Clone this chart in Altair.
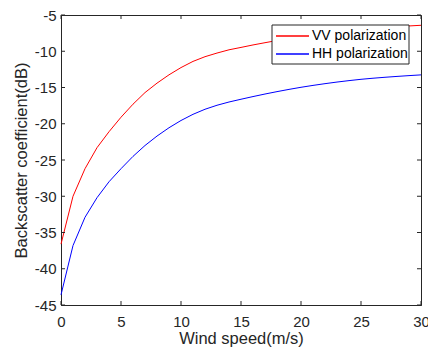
import altair as alt
import pandas as pd

# ---- data ----
wind_speed = list(range(31))
vv_db = [-36.6, -30.0, -26.2, -23.3, -21.1, -19.1, -17.3, -15.7, -14.4, -13.25,
         -12.25, -11.4, -10.75, -10.25, -9.8, -9.47, -9.13, -8.82, -8.52, -8.24,
         -7.98, -7.74, -7.52, -7.32, -7.14, -6.98, -6.84, -6.72, -6.61, -6.51, -6.42]
hh_db = [-43.6, -36.8, -32.9, -30.2, -28.0, -26.2, -24.5, -23.0, -21.7, -20.55,
         -19.55, -18.7, -18.0, -17.45, -17.0, -16.62, -16.25, -15.9, -15.57, -15.26,
         -14.97, -14.71, -14.47, -14.25, -14.05, -13.87, -13.72, -13.59, -13.47, -13.36, -13.26]
series_names = ["VV polarization", "HH polarization"]
series_colors = ["#ff0000", "#0000ff"]
x_ticks = [0, 5, 10, 15, 20, 25, 30]
y_ticks = [-45, -40, -35, -30, -25, -20, -15, -10, -5]

df = pd.DataFrame({
    "wind": wind_speed * 2,
    "sigma": vv_db + hh_db,
    "pol": [series_names[0]] * len(wind_speed) + [series_names[1]] * len(wind_speed),
})

W, H = 360, 290
FONT = "Liberation Sans"
AX = "#262626"

xscale = alt.Scale(domain=[0, 30], nice=False, zero=False)
yscale = alt.Scale(domain=[-45, -5], nice=False, zero=False)

x_axis = alt.Axis(values=x_ticks, title="Wind speed(m/s)",
                  labelExpr="toString(datum.value)", labelFlush=False, labelOverlap=False,
                  labelPadding=9, titleX=W / 2, titleY=33,
                  titleBaseline="middle", titleAlign="center")
y_axis = alt.Axis(values=y_ticks, title="Backscatter coefficient(dB)",
                  labelExpr="toString(datum.value)", labelFlush=False, labelOverlap=False,
                  labelPadding=5, titleX=-40, titleY=H / 2,
                  titleBaseline="middle", titleAlign="center", titleAngle=-90)

lines = alt.Chart(df).mark_line(strokeWidth=1).encode(
    x=alt.X("wind:Q", scale=xscale, axis=x_axis),
    y=alt.Y("sigma:Q", scale=yscale, axis=y_axis),
    color=alt.Color("pol:N", scale=alt.Scale(domain=series_names, range=series_colors), legend=None),
)

xt = pd.DataFrame({"wind": x_ticks})
yt = pd.DataFrame({"sigma": y_ticks})
TL = 4
tick_layers = [
    alt.Chart(xt).mark_rule(color=AX, strokeWidth=1).encode(
        x=alt.X("wind:Q", scale=xscale, axis=x_axis), y=alt.value(H), y2=alt.value(H - TL)),
    alt.Chart(xt).mark_rule(color=AX, strokeWidth=1).encode(
        x=alt.X("wind:Q", scale=xscale, axis=x_axis), y=alt.value(0), y2=alt.value(TL)),
    alt.Chart(yt).mark_rule(color=AX, strokeWidth=1).encode(
        y=alt.Y("sigma:Q", scale=yscale, axis=y_axis), x=alt.value(0), x2=alt.value(TL)),
    alt.Chart(yt).mark_rule(color=AX, strokeWidth=1).encode(
        y=alt.Y("sigma:Q", scale=yscale, axis=y_axis), x=alt.value(W - TL), x2=alt.value(W)),
]

one = pd.DataFrame({"a": [0]})
LX0, LX1, LY0, LY1 = 211, 348, 10, 49
legend_layers = [
    alt.Chart(one).mark_rect(fill="white", stroke=AX, strokeWidth=1).encode(
        x=alt.value(LX0), x2=alt.value(LX1), y=alt.value(LY0), y2=alt.value(LY1)),
]
for i, (name, col) in enumerate(zip(series_names, series_colors)):
    yy = 21 + 18 * i
    legend_layers.append(
        alt.Chart(one).mark_rule(color=col, strokeWidth=1.3).encode(
            x=alt.value(215), x2=alt.value(248), y=alt.value(yy)))
    legend_layers.append(
        alt.Chart(one).mark_text(align="left", baseline="middle", font=FONT,
                                 fontSize=14, color="black").encode(
            x=alt.value(251), y=alt.value(yy), text=alt.value(name)))

chart = alt.layer(lines, *tick_layers, *legend_layers).properties(
    width=W, height=H,
    autosize=alt.AutoSizeParams(type="none"),
    padding={"left": 61, "top": 15, "right": 7, "bottom": 42},
    background="white",
).configure_view(
    stroke=AX, strokeWidth=1
).configure_axis(
    grid=False, ticks=False,
    domainColor=AX, domainWidth=1,
    labelFont=FONT, labelFontSize=15, labelColor=AX,
    titleFont=FONT, titleFontSize=16.5, titleColor=AX, titleFontWeight="normal",
)

chart.save("out.html", embed_options={"renderer": "svg", "actions": False})
